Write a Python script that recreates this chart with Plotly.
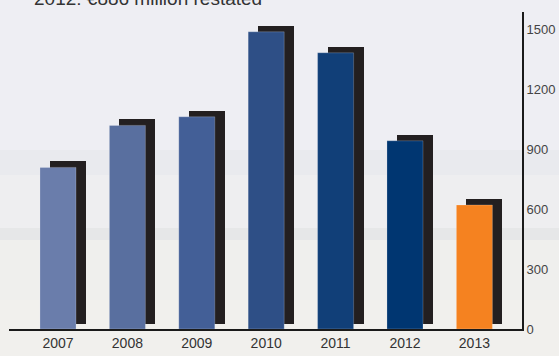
import plotly.graph_objects as go

years = ['2007', '2008', '2009', '2010', '2011', '2012', '2013']
values = [808, 1018, 1061, 1486, 1381, 941, 620]
bar_colors = ['#6a7dab', '#596f9f', '#435f97', '#2e4f86', '#113f78', '#003671', '#f58220']
y_ticks = [0, 300, 600, 900, 1200, 1500]
title_text = '2012: €886 million restated'

FONT = 'Liberation Sans, Arial, sans-serif'

W, H = 559, 356
ML, MR, MT, MB = 9, 37, 12, 27
xs = list(range(len(years)))

bar_w = 0.519
shadow_dx = 0.144
shadow_up = 30     # data units above bar top
shadow_lift = 25   # data units above baseline

fig = go.Figure()

# shadows
fig.add_trace(go.Bar(
    x=xs, y=[v + shadow_up - shadow_lift for v in values], base=[shadow_lift] * len(values),
    width=bar_w, offset=-bar_w / 2 + shadow_dx,
    marker=dict(color='#231f20', line=dict(width=0)),
    hoverinfo='skip', showlegend=False))

# main bars
fig.add_trace(go.Bar(
    x=xs, y=values, width=bar_w, offset=-bar_w / 2,
    marker=dict(color=bar_colors, line=dict(width=0.6, color='rgba(255,255,255,0.35)')),
    showlegend=False))

# subtle background bands (photo-like backdrop)
bands = [
    (150, 175, '#e9eaee'),
    (175, 228, '#eeeef0'),
    (228, 240, '#e6e7e8'),
    (240, 300, '#efefed'),
    (300, 356, '#f1f0ed'),
]
shapes = []
plot_h = H - MT - MB
plot_w = W - ML - MR
for y0, y1, c in bands:
    shapes.append(dict(type='rect', xref='paper', yref='paper', layer='below',
                       x0=-ML / plot_w, x1=1 + MR / plot_w,
                       y0=(H - MB - y1) / plot_h, y1=(H - MB - y0) / plot_h,
                       fillcolor=c, line=dict(width=0)))

fig.update_layout(
    width=W, height=H,
    margin=dict(l=ML, r=MR, t=MT, b=MB, pad=0, autoexpand=False),
    paper_bgcolor='#eeeef3', plot_bgcolor='rgba(0,0,0,0)',
    barmode='overlay', bargap=0,
    font=dict(family=FONT, color='#333333'),
    shapes=shapes,
    xaxis=dict(range=[-0.706, 6.686], tickmode='array', tickvals=xs, ticktext=years,
               showgrid=False, zeroline=False, showline=True, linecolor='#1a1a1a', linewidth=2,
               ticks='', automargin=False,
               tickfont=dict(size=14, family=FONT, color='#333333'), fixedrange=True),
    yaxis=dict(range=[0, 1585], side='right', tickmode='array', tickvals=y_ticks,
               ticktext=[str(t) for t in y_ticks],
               showgrid=False, zeroline=False, showline=True, linecolor='#1a1a1a', linewidth=2,
               ticks='', ticklabelstandoff=0, automargin=False,
               tickfont=dict(size=13, family=FONT, color='#444444'), fixedrange=True),
    annotations=[dict(text=title_text, xref='paper', yref='paper',
                      x=(32 - ML) / plot_w, y=(H - MB + 1.5) / plot_h, xanchor='left', yanchor='middle',
                      showarrow=False, font=dict(size=19, family=FONT, color='#333333'))],
)

fig.write_html('out.html', config={'displayModeBar': False, 'staticPlot': True},
               post_script="document.body.style.margin='0';document.body.style.overflow='hidden';")
